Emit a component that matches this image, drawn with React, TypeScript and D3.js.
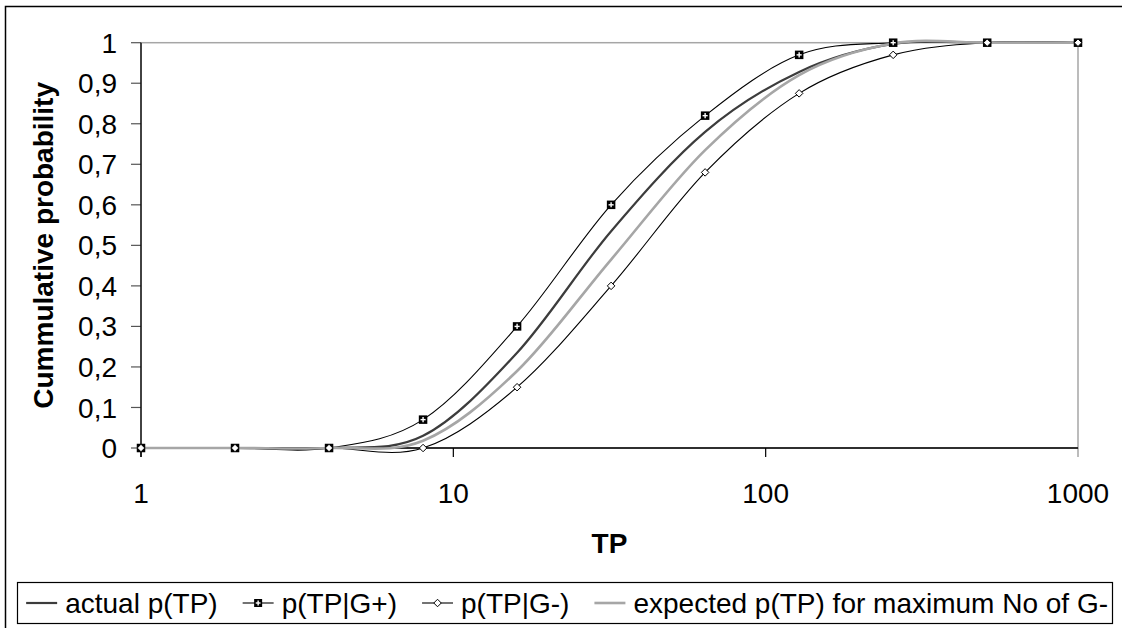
import React from "react";
import * as d3 from "d3";

const tpValues = [1, 2, 4, 8, 16, 32, 64, 128, 256, 512, 1000];
const actualP = [0, 0, 0, 0.03, 0.235, 0.535, 0.78, 0.928, 0.997, 1, 1];
const pGplus = [0, 0, 0, 0.07, 0.3, 0.6, 0.82, 0.97, 1, 1, 1];
const pGminus = [0, 0, 0, 0, 0.15, 0.4, 0.68, 0.875, 0.97, 1, 1];
const expectedP = [0, 0, 0, 0.018, 0.19, 0.465, 0.735, 0.92, 0.998, 1, 1];

const yTicks = [0, 0.1, 0.2, 0.3, 0.4, 0.5, 0.6, 0.7, 0.8, 0.9, 1];
const xTicks = [1, 10, 100, 1000];
const legendLabels = [
  "actual p(TP)",
  "p(TP|G+)",
  "p(TP|G-)",
  "expected p(TP) for maximum No of G-",
];

const W = 1122;
const H = 628;
const FONT = "'Liberation Sans', Arial, sans-serif";
const FS = 28;

function measure(text: string, bold = false): number {
  if (typeof document === "undefined") return text.length * FS * 0.5;
  const c = document.createElement("canvas");
  const ctx = c.getContext("2d");
  if (!ctx) return text.length * FS * 0.5;
  ctx.font = `${bold ? "bold " : ""}${FS}px 'Liberation Sans', Arial, sans-serif`;
  return ctx.measureText(text).width;
}

const Square = ({ x, y, s = 8.5 }: { x: number; y: number; s?: number }) => (
  <g>
    <rect x={x - s / 2} y={y - s / 2} width={s} height={s} fill="#000" />
    <line x1={x - s * 0.3} x2={x + s * 0.3} y1={y} y2={y} stroke="#fff" strokeWidth={1.4} />
    <line x1={x} x2={x} y1={y - s * 0.3} y2={y + s * 0.3} stroke="#fff" strokeWidth={1.4} />
  </g>
);

const Diamond = ({ x, y, s = 7.5 }: { x: number; y: number; s?: number }) => (
  <path
    d={`M${x},${y - s / 2}L${x + s / 2},${y}L${x},${y + s / 2}L${x - s / 2},${y}Z`}
    fill="#fff"
    stroke="#000"
    strokeWidth={1}
  />
);

export default function App() {
  const left = 141;
  const right = 1078;
  const top = 42.7;
  const bottom = 448;

  const x = d3.scaleLog().domain([1, 1000]).range([left, right]);
  const y = d3.scaleLinear().domain([0, 1]).range([bottom, top]);

  const mk = (vals: number[]) =>
    d3
      .line<number>()
      .x((_, i) => x(tpValues[i]))
      .y((v) => y(v))
      .curve(d3.curveCardinal.tension(0))(vals) || "";

  const fmtY = (v: number) => (v === 0 ? "0" : v === 1 ? "1" : d3.format(".1f")(v).replace(".", ","));

  // legend layout
  const sampleW = 31;
  const gapText = 8;
  const gapItem = 25;
  const widths = legendLabels.map((l) => measure(l));
  const total =
    widths.reduce((a, b) => a + b, 0) + legendLabels.length * (sampleW + gapText) + (legendLabels.length - 1) * gapItem;
  const legendRight = 1108;
  let cursor = legendRight - total;
  const items = legendLabels.map((l, i) => {
    const sx = cursor;
    const tx = sx + sampleW + gapText;
    cursor = tx + widths[i] + gapItem;
    return { l, sx, tx, i };
  });
  const ly = 603;

  return (
    <svg
      width={W}
      height={H}
      style={{ position: "absolute", left: 0, top: 0, background: "#fff" }}
      fontFamily={FONT}
    >
      <rect x={0} y={0} width={W} height={H} fill="#fff" />
      {/* outer frame */}
      <rect x={5.5} y={6.5} width={W + 20} height={H + 20} fill="none" stroke="#000" strokeWidth={1.5} />

      {/* plot border (gray) */}
      <rect x={left} y={top} width={right - left} height={bottom - top} fill="none" stroke="#a6a6a6" strokeWidth={1.5} />

      {/* y axis ticks */}
      {yTicks.map((t) => (
        <g key={"y" + t}>
          <line x1={131} x2={left} y1={y(t)} y2={y(t)} stroke="#555" strokeWidth={1.2} />
          <text x={117} y={y(t)} dy="0.36em" textAnchor="end" fontSize={FS} fill="#000">
            {fmtY(t)}
          </text>
        </g>
      ))}

      {/* x axis ticks */}
      {xTicks.map((t) => (
        <g key={"x" + t}>
          <line
            x1={x(t)}
            x2={x(t)}
            y1={bottom}
            y2={457}
            stroke={t === 1000 ? "#a6a6a6" : "#000"}
            strokeWidth={t === 1000 ? 1.5 : 1.2}
          />
          <text x={x(t)} y={503} textAnchor="middle" fontSize={FS} fill="#000">
            {String(t)}
          </text>
        </g>
      ))}

      {/* axes */}
      <line x1={left} x2={right} y1={bottom} y2={bottom} stroke="#000" strokeWidth={1.3} />
      <line x1={left} x2={left} y1={top} y2={457} stroke="#000" strokeWidth={1.3} />

      {/* series lines */}
      <path d={mk(actualP)} fill="none" stroke="#3c3c3c" strokeWidth={2.2} />
      <path d={mk(pGplus)} fill="none" stroke="#000" strokeWidth={1.1} />
      <path d={mk(pGminus)} fill="none" stroke="#000" strokeWidth={1.1} />
      <path d={mk(expectedP)} fill="none" stroke="#a6a6a6" strokeWidth={2.6} />

      {/* markers */}
      {pGplus.map((v, i) => (
        <Square key={"s" + i} x={x(tpValues[i])} y={y(v)} />
      ))}
      {pGminus.map((v, i) => (
        <Diamond key={"d" + i} x={x(tpValues[i])} y={y(v)} />
      ))}

      {/* axis titles */}
      <text
        transform={`translate(53,${(top + bottom) / 2}) rotate(-90)`}
        textAnchor="middle"
        fontSize={FS}
        fontWeight="bold"
        fill="#000"
      >
        Cummulative probability
      </text>
      <text x={(left + right) / 2} y={553} textAnchor="middle" fontSize={FS} fontWeight="bold" fill="#000">
        TP
      </text>

      {/* legend */}
      <rect x={17.5} y={582.5} width={1095} height={41} fill="#fff" stroke="#000" strokeWidth={1.2} />
      {items.map(({ l, sx, tx, i }) => (
        <g key={"l" + i}>
          <line
            x1={sx}
            x2={sx + sampleW}
            y1={ly}
            y2={ly}
            stroke={i === 0 ? "#3c3c3c" : i === 3 ? "#a6a6a6" : "#000"}
            strokeWidth={i === 0 ? 2.2 : i === 3 ? 2.6 : 1.1}
          />
          {i === 1 && <Square x={sx + sampleW / 2} y={ly} s={8} />}
          {i === 2 && <Diamond x={sx + sampleW / 2} y={ly} s={7.5} />}
          <text x={tx} y={613} fontSize={FS} fill="#000">
            {l}
          </text>
        </g>
      ))}
    </svg>
  );
}
